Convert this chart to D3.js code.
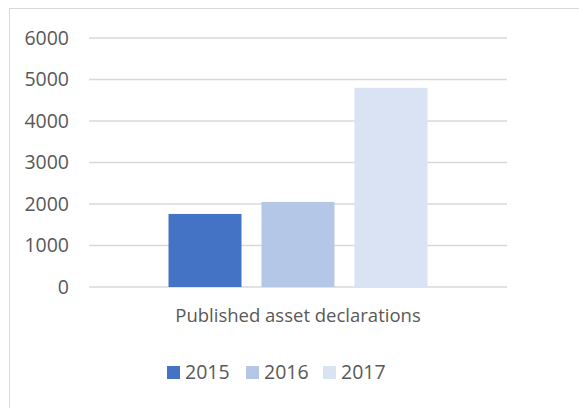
<!DOCTYPE html>
<meta charset="utf-8">
<script src="https://d3js.org/d3.v7.min.js"></script>
<style>
body { margin: 0; background: #fff; }
svg text { font-family: "Open Sans", "Liberation Sans", sans-serif; fill: #595959; }
</style>
<body></body>
<script>

var categories = ["Published asset declarations"];
var years = ["2015", "2016", "2017"];
var values = [1760, 2050, 4800];
var colors = ["#4472C4", "#B4C7E7", "#DAE3F3"];
var yTicks = [0, 1000, 2000, 3000, 4000, 5000, 6000];

var width = 579, height = 408;
var margin = {top: 38, right: 72, bottom: 121, left: 89};

var svg = d3.select("body").append("svg")
  .attr("width", width)
  .attr("height", height);

// chart frame
svg.append("rect")
  .attr("x", 9.5).attr("y", 8.5)
  .attr("width", 600).attr("height", 420)
  .attr("fill", "none")
  .attr("stroke", "#d9d9d9");

var g = svg.append("g")
  .attr("transform", "translate(" + margin.left + "," + margin.top + ")");

var w = width - margin.left - margin.right;
var h = height - margin.top - margin.bottom;

var x0 = d3.scaleBand().domain(categories).range([0, w]).paddingInner(0).paddingOuter(0.307);
var x1 = d3.scaleBand().domain(years).range([0, x0.bandwidth()]).paddingInner(0.215);
var y = d3.scaleLinear().domain([0, 6000]).range([h, 0]);

// gridlines
g.selectAll(".grid").data(yTicks).enter().append("line")
  .attr("x1", 0).attr("x2", w)
  .attr("y1", function(d) { return y(d); })
  .attr("y2", function(d) { return y(d); })
  .attr("stroke", "#d9d9d9")
  .attr("stroke-width", 1.5);

// y axis labels
var yAxis = d3.axisLeft(y).tickValues(yTicks).tickFormat(d3.format("d")).tickSize(0).tickPadding(20);
g.append("g").call(yAxis)
  .call(function(a) { a.select(".domain").remove(); })
  .selectAll("text")
  .attr("font-size", 19.5);

var bars = years.map(function(yr, i) { return {cat: categories[0], year: yr, value: values[i], color: colors[i]}; });

g.selectAll(".bar").data(bars).enter().append("rect")
  .attr("x", function(d) { return x0(d.cat) + x1(d.year); })
  .attr("y", function(d) { return y(d.value); })
  .attr("width", x1.bandwidth())
  .attr("height", function(d) { return h - y(d.value); })
  .attr("fill", function(d) { return d.color; });

// category axis
var xAxis = d3.axisBottom(x0).tickSize(0).tickPadding(22);
g.append("g").attr("transform", "translate(0," + h + ")").call(xAxis)
  .call(function(a) { a.select(".domain").remove(); })
  .selectAll("text")
  .attr("font-size", 18.5)
  .attr("dx", 0);

// legend
var legendX = [167, 246, 323];
var legend = svg.selectAll(".legend").data(years).enter().append("g")
  .attr("transform", function(d, i) { return "translate(" + legendX[i] + ",366)"; });
legend.append("rect")
  .attr("width", 13).attr("height", 13)
  .attr("fill", function(d, i) { return colors[i]; });
legend.append("text")
  .attr("x", 18).attr("y", 6.5).attr("dy", "0.35em")
  .attr("font-size", 19.5)
  .text(function(d) { return d; });

</script>
